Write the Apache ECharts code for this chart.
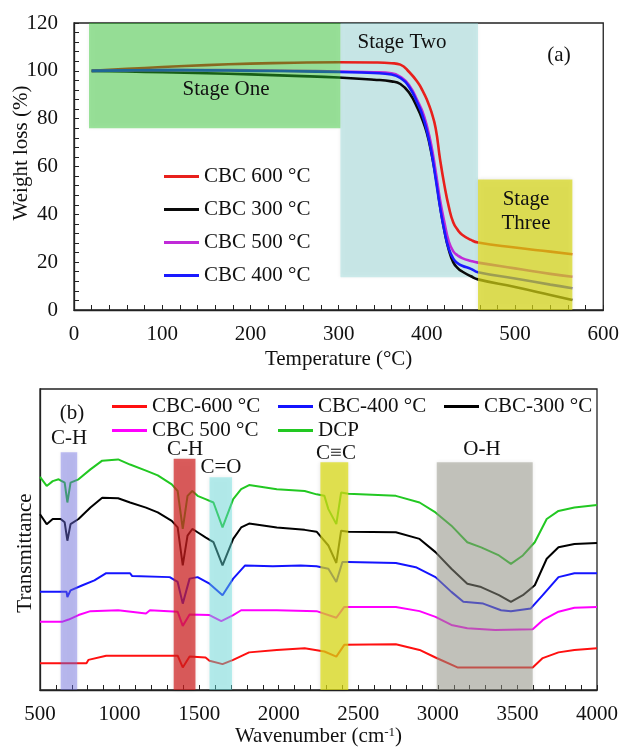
<!DOCTYPE html>
<html lang="en">
<head>
  <meta charset="UTF-8">
  <title>TGA and FTIR of CBC</title>
  <script src="https://cdn.jsdelivr.net/npm/echarts@6/dist/echarts.min.js"></script>
  <style>
    html, body { margin: 0; padding: 0; background: #fff; }
    #chart { width: 622px; height: 748px; }
  </style>
</head>
<body>
<div id="chart"></div>
<script>
// ---- panel (a): TGA curves ----
const tempC = [20, 60, 100, 150, 200, 250, 300, 340, 360, 370, 380, 390, 395, 400, 405, 410, 415, 420, 425, 430, 435, 440, 450, 458, 500, 540, 565];
const wl600 = [100, 100.8, 101.6, 102.4, 103, 103.4, 103.6, 103.5, 103.2, 102.6, 99.5, 95, 91.8, 88, 83, 76, 63, 52, 43, 36.6, 33.5, 31.5, 29.3, 28.2, 26.1, 24.4, 23.3];
const wl300 = [100, 99.7, 99.4, 99, 98.5, 97.9, 97.2, 96.3, 95.6, 94.5, 90.8, 84, 79.5, 74, 66, 56, 43.5, 33, 25, 19.9, 17.5, 16.1, 14.1, 12.8, 9.6, 6.3, 4.2];
const wl500 = [100, 100.2, 100.3, 100.3, 100.2, 100, 99.7, 99.4, 99, 97.5, 94, 87, 83, 77, 69, 58, 46, 36.5, 28.5, 24.5, 22.8, 21.7, 20.5, 19.8, 17.4, 15.1, 13.9];
const wl400 = [100, 100.2, 100.3, 100.2, 100, 99.8, 99.5, 99.1, 98.5, 97, 93.2, 86, 81.5, 75, 66.5, 55, 43, 33, 25.5, 21.5, 19.5, 18.5, 17.2, 15.8, 13.2, 10.6, 9.1];
// stage boxes: [xFrom, xTo, yFrom, yTo]
const stageOne = [17, 302, 76, 120];
const stageTwo = [302, 458, 13.7, 120];
const stageThree = [458, 565, 0, 54.6];

// ---- panel (b): FTIR spectra ----
const dcpWn = [500, 542, 580, 617, 655, 672, 692, 742, 817, 891, 991, 1066, 1166, 1240, 1328, 1365, 1397, 1427, 1457, 1490, 1540, 1590, 1647, 1714, 1764, 1814, 1988, 2163, 2238, 2287, 2312, 2362, 2392, 2437, 2736, 2885, 2985, 3085, 3185, 3272, 3384, 3459, 3534, 3609, 3684, 3758, 3858, 4000];
const dcpT = [70.8, 67.8, 69.4, 70.0, 68.9, 62.3, 68.9, 70.0, 73.3, 76.2, 76.6, 74.9, 72.9, 71.3, 68.3, 66.1, 53.5, 64.5, 66.1, 64.5, 63.4, 62.3, 54.0, 63.4, 66.7, 68.1, 66.7, 66.1, 65.0, 64.5, 60.1, 55.1, 65.6, 65.2, 64.5, 62.3, 59.0, 54.6, 49.1, 47.4, 44.7, 41.9, 44.7, 49.1, 56.8, 59.5, 60.6, 61.5];
const c300Wn = [500, 542, 580, 630, 655, 672, 692, 742, 817, 891, 991, 1066, 1166, 1240, 1328, 1365, 1397, 1427, 1457, 1490, 1540, 1590, 1647, 1714, 1764, 1814, 1988, 2163, 2238, 2312, 2362, 2392, 2437, 2736, 2885, 2985, 3085, 3185, 3272, 3384, 3459, 3534, 3609, 3684, 3758, 3858, 4000];
const c300T = [58.4, 55.1, 56.8, 56.8, 55.7, 49.6, 55.1, 56.8, 60.6, 63.9, 63.7, 62.3, 60.6, 59.0, 56.2, 54.0, 41.4, 51.3, 53.5, 52.4, 50.7, 49.1, 41.4, 50.2, 54.0, 55.3, 54.0, 53.2, 52.6, 48.0, 42.2, 52.9, 52.6, 52.4, 50.2, 45.8, 40.3, 35.3, 34.2, 31.5, 29.3, 31.5, 34.8, 43.6, 47.4, 48.5, 48.8];
const c400Wn = [500, 667, 672, 692, 767, 842, 916, 1066, 1078, 1315, 1365, 1397, 1440, 1490, 1565, 1647, 1714, 1789, 1963, 2138, 2238, 2312, 2362, 2400, 2437, 2736, 2861, 2985, 3085, 3160, 3285, 3397, 3459, 3584, 3659, 3758, 3858, 4000];
const c400T = [32.6, 32.6, 30.9, 33.1, 34.8, 36.4, 38.8, 38.8, 37.9, 37.5, 35.9, 28.7, 37.0, 37.5, 35.3, 31.5, 37.0, 41.4, 41.1, 41.4, 41.1, 40.3, 35.9, 42.5, 42.5, 42.2, 40.8, 37.5, 32.6, 29.3, 28.7, 26.5, 26.2, 27.1, 31.5, 37.5, 38.8, 38.8];
const c500Wn = [500, 642, 680, 742, 817, 991, 1166, 1191, 1365, 1397, 1440, 1565, 1639, 1714, 1764, 1988, 2238, 2362, 2412, 2736, 2885, 2985, 3085, 3185, 3360, 3596, 3659, 3758, 3858, 4000];
const c500T = [22.7, 22.7, 23.4, 24.9, 26.2, 26.5, 25.4, 26.5, 26.0, 21.3, 25.1, 24.9, 22.9, 24.9, 26.5, 26.5, 26.2, 24.0, 27.6, 27.6, 26.2, 24.3, 21.6, 20.5, 19.9, 20.2, 23.2, 26.0, 27.3, 27.6];
const c600Wn = [500, 792, 804, 916, 1365, 1397, 1440, 1540, 1565, 1647, 1714, 1814, 1988, 2163, 2287, 2362, 2412, 2736, 2885, 2985, 3123, 3596, 3659, 3758, 3858, 4000];
const c600T = [8.9, 8.9, 10.0, 11.4, 11.4, 7.5, 11.1, 10.8, 9.7, 8.6, 10.0, 12.5, 13.3, 13.9, 12.8, 11.1, 15.0, 15.2, 13.3, 10.8, 7.5, 7.5, 10.6, 12.5, 13.3, 13.9];
// band boxes: [wnFrom, wnTo, yFrom, yTo]
const bandCH1 = [630, 734, 0, 79];
const bandCH2 = [1340, 1477, 0, 76.8];
const bandCO = [1565, 1707, 0, 70.7];
const bandCC = [2262, 2437, 0, 75.7];
const bandOH = [2993, 3596, 0, 75.7];

const serif = 'Liberation Serif';
const zip = (xs, ys) => xs.map((x, i) => [x, ys[i]]);

function boxSeries(xi, yi, boxes, colors, z) {
  return {
    type: 'custom', xAxisIndex: xi, yAxisIndex: yi, z: z, silent: true,
    encode: { x: [0, 1], y: [2, 3] },
    data: boxes,
    renderItem: function (params, api) {
      const p0 = api.coord([api.value(0), api.value(3)]);
      const p1 = api.coord([api.value(1), api.value(2)]);
      return {
        type: 'rect',
        shape: { x: p0[0], y: p0[1], width: p1[0] - p0[0], height: p1[1] - p0[1] },
        style: { fill: colors[params.dataIndex], shadowBlur: 4, shadowColor: 'rgba(0,0,0,0.15)' }
      };
    }
  };
}

function lineA(name, vals, color) {
  return {
    name: name, type: 'line', xAxisIndex: 0, yAxisIndex: 0, z: 3,
    data: zip(tempC, vals), showSymbol: false, smooth: 0.5,
    lineStyle: { color: color, width: 2.6 }, itemStyle: { color: color }
  };
}
function lineB(name, wn, t, color) {
  return {
    name: name, type: 'line', xAxisIndex: 1, yAxisIndex: 1, z: 3,
    data: zip(wn, t), showSymbol: false,
    lineStyle: { color: color, width: 2 }, itemStyle: { color: color }
  };
}

function txt(s, x, y, opts) {
  return Object.assign({
    type: 'text', x: x, y: y, z: 100,
    style: {
      text: s, fontFamily: serif, fontSize: 21, fill: '#111',
      align: 'center', verticalAlign: 'middle',
      shadowBlur: 4, shadowColor: 'rgba(0,0,0,0.3)', shadowOffsetX: 1, shadowOffsetY: 2
    }
  }, opts || {});
}

const axisCol = '#222';
const tickLabel = { fontFamily: serif, fontSize: 21, color: '#111', formatter: v => String(v) };

const chart = echarts.init(document.getElementById('chart'));
const option = {
  animation: false,
  grid: [
    { left: 74, top: 23, width: 531, height: 287, show: true, borderColor: axisCol, borderWidth: 1.3 },
    { left: 40, top: 389, width: 557, height: 303, show: true, borderColor: axisCol, borderWidth: 1.3 }
  ],
  xAxis: [
    {
      gridIndex: 0, type: 'value', min: 0, max: 600, interval: 100,
      axisLine: { lineStyle: { color: axisCol, width: 1.3 } },
      axisTick: { inside: true, length: 5, lineStyle: { color: axisCol } },
      minorTick: { show: true, splitNumber: 5, length: 5, lineStyle: { color: axisCol } },
      splitLine: { show: false },
      axisLabel: Object.assign({ margin: 14 }, tickLabel),
      name: 'Temperature (°C)', nameLocation: 'middle', nameGap: 39,
      nameTextStyle: { fontFamily: serif, fontSize: 21, color: '#111' }
    },
    {
      gridIndex: 1, type: 'value', min: 500, max: 4000, interval: 500,
      axisLine: { lineStyle: { color: axisCol, width: 1.3 } },
      axisTick: { inside: true, length: 5, lineStyle: { color: axisCol } },
      minorTick: { show: true, splitNumber: 5, length: 5, lineStyle: { color: axisCol } },
      splitLine: { show: false },
      axisLabel: Object.assign({ margin: 14 }, tickLabel),
      name: 'Wavenumber (cm{sup|-1})', nameLocation: 'middle', nameGap: 36,
      nameTextStyle: {
        fontFamily: serif, fontSize: 21, color: '#111',
        rich: { sup: { fontFamily: serif, fontSize: 13, color: '#111', verticalAlign: 'top', padding: [0, 0, 8, 0] } }
      }
    }
  ],
  yAxis: [
    {
      gridIndex: 0, type: 'value', min: 0, max: 120, interval: 20,
      axisLine: { show: true, lineStyle: { color: axisCol, width: 1.3 } },
      axisTick: { show: true, inside: true, length: 5, lineStyle: { color: axisCol } },
      minorTick: { show: true, splitNumber: 5, length: 5, lineStyle: { color: axisCol } },
      splitLine: { show: false },
      axisLabel: Object.assign({ margin: 16 }, tickLabel)
    },
    {
      gridIndex: 1, type: 'value', min: 0, max: 100,
      axisLine: { show: true, lineStyle: { color: axisCol, width: 1.3 } },
      axisTick: { show: false }, axisLabel: { show: false }, splitLine: { show: false }
    }
  ],
  legend: [
    {
      data: ['CBC 600 °C', 'CBC 300 °C', 'CBC 500 °C', 'CBC 400 °C'],
      orient: 'vertical', left: 159, top: 161, itemGap: 12,
      icon: 'rect', itemWidth: 35, itemHeight: 3,
      textStyle: { fontFamily: serif, fontSize: 21, color: '#111' }
    },
    {
      data: ['CBC-600 °C', { name: 'CBC 500 °C', itemStyle: { color: '#ff00ff' } }],
      orient: 'vertical', left: 107, top: 391, itemGap: 3,
      icon: 'rect', itemWidth: 35, itemHeight: 3,
      textStyle: { fontFamily: serif, fontSize: 21, color: '#111' }
    },
    {
      data: ['CBC-400 °C', 'DCP'],
      orient: 'vertical', left: 273, top: 391, itemGap: 3,
      icon: 'rect', itemWidth: 35, itemHeight: 3,
      textStyle: { fontFamily: serif, fontSize: 21, color: '#111' }
    },
    {
      data: ['CBC-300 °C'],
      orient: 'vertical', left: 439, top: 391, itemGap: 3,
      icon: 'rect', itemWidth: 35, itemHeight: 3,
      textStyle: { fontFamily: serif, fontSize: 21, color: '#111' }
    }
  ],
  series: [
    boxSeries(0, 0, [stageTwo], ['rgba(140,215,215,0.42)'], 1),
    lineA('CBC 600 °C', wl600, '#e8201c'),
    lineA('CBC 300 °C', wl300, '#0a0a0a'),
    lineA('CBC 500 °C', wl500, '#c02ad8'),
    lineA('CBC 400 °C', wl400, '#1a1aff'),
    boxSeries(0, 0, [stageOne, stageThree], ['rgba(40,200,40,0.45)', 'rgba(215,215,20,0.7)'], 10),
    lineB('DCP', dcpWn, dcpT, '#22c822'),
    lineB('CBC-300 °C', c300Wn, c300T, '#000000'),
    lineB('CBC-400 °C', c400Wn, c400T, '#1414ff'),
    lineB('CBC 500 °C', c500Wn, c500T, '#ff00ff'),
    lineB('CBC-600 °C', c600Wn, c600T, '#ff1010'),
    boxSeries(1, 1, [bandCH1, bandCH2, bandCO, bandCC, bandOH],
      ['rgba(110,110,230,0.45)', 'rgba(210,30,30,0.7)', 'rgba(100,225,225,0.45)', 'rgba(220,220,20,0.72)', 'rgba(150,150,135,0.5)'], 10)
  ],
  graphic: [
    txt('(a)', 559, 55, {}),
    txt('Stage One', 226, 89, {}),
    txt('Stage Two', 402, 42, {}),
    txt('Stage', 526, 199, {}),
    txt('Three', 526, 223, {}),
    txt('Weight loss (%)', 21, 153, { rotation: Math.PI / 2 }),
    txt('(b)', 72, 413, {}),
    txt('C-H', 69, 438, {}),
    txt('C-H', 185, 449, {}),
    txt('C=O', 221, 467, {}),
    txt('C≡C', 336, 453, {}),
    txt('O-H', 482, 449, {}),
    txt('Transmittance', 25, 553, { rotation: Math.PI / 2 })
  ]
};
chart.setOption(option);
</script>
</body>
</html>
